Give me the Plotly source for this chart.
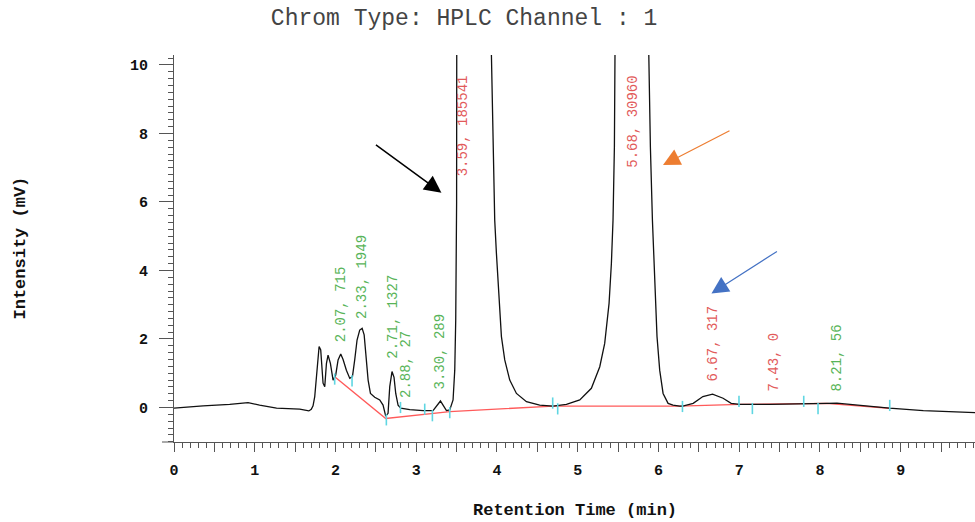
import plotly.graph_objects as go

# Detector trace (retention time in min, intensity in mV)
trace_t = [0.00, 0.36, 0.69, 0.80, 0.917, 1.06, 1.27, 1.557, 1.67, 1.70, 1.722, 1.743,
           1.76, 1.772, 1.785, 1.797, 1.817, 1.835, 1.846, 1.867, 1.888, 1.908, 1.937,
           1.970, 2.003, 2.032, 2.065, 2.094, 2.135, 2.177, 2.210, 2.238, 2.267, 2.300,
           2.33, 2.355, 2.375, 2.404, 2.433, 2.486, 2.548, 2.589, 2.622, 2.651, 2.672,
           2.70, 2.725, 2.746, 2.775, 2.808, 2.92, 3.085, 3.208, 3.25, 3.30, 3.332,
           3.374, 3.415, 3.456, 3.477, 3.489, 3.50, 3.506, 3.59, 3.925, 3.956, 3.972,
           3.993, 4.026, 4.055, 4.096, 4.158, 4.241, 4.365, 4.529, 4.694, 4.860, 5.025,
           5.169, 5.273, 5.334, 5.388, 5.417, 5.437, 5.454, 5.482, 5.68, 5.875, 5.90,
           5.925, 5.953, 5.982, 6.015, 6.057, 6.119, 6.18, 6.263, 6.30, 6.43, 6.55,
           6.67, 6.80, 6.90, 7.006, 7.38, 7.75, 7.93, 8.08, 8.21, 8.45, 8.86, 9.28, 9.92]
trace_v = [-0.02, 0.05, 0.09, 0.11, 0.14, 0.07, -0.02, -0.05, -0.10, -0.05, 0.05, 0.32,
           0.80, 1.09, 1.55, 1.78, 1.68, 1.05, 0.71, 0.61, 1.29, 1.53, 1.29,
           0.80, 0.95, 1.39, 1.56, 1.40, 1.09, 0.85, 0.90, 1.39, 1.97, 2.26,
           2.31, 2.12, 1.58, 0.80, 0.41, 0.30, 0.22, 0.07, -0.25, -0.17, 0.61,
           1.05, 0.88, 0.41, 0.07, -0.02, -0.06, -0.09, -0.09, 0.04, 0.19, 0.07,
           -0.09, -0.07, 0.22, 1.09, 2.55, 6.0, 11.0, 250.0, 11.0, 7.6, 5.47,
           4.50, 3.04, 2.07, 1.39, 0.80, 0.41, 0.17, 0.07, 0.04, 0.09, 0.22,
           0.56, 1.19, 1.87, 3.04, 4.21, 5.47, 7.6, 11.0, 90.0, 11.0, 7.6,
           5.47, 3.53, 2.07, 1.09, 0.41, 0.12, 0.07, 0.04, 0.04, 0.12, 0.32,
           0.39, 0.27, 0.12, 0.09, 0.09, 0.10, 0.10, 0.12, 0.13, 0.07, -0.02, -0.09, -0.15]

# Integration baseline
base_t = [1.99, 2.622, 3.415, 4.694, 6.26, 7.006, 8.08, 8.86]
base_v = [0.90, -0.32, -0.12, 0.04, 0.04, 0.09, 0.12, -0.02]

# Peak start / end markers
mark_t = [1.99, 2.205, 2.63, 2.805, 3.105, 3.20, 3.415, 4.69, 4.752,
          6.297, 6.997, 7.163, 7.799, 7.976, 8.864]
mark_v = [0.83, 0.78, -0.36, 0.0, -0.05, -0.24, -0.15, 0.13, -0.04,
          0.03, 0.18, -0.03, 0.18, -0.03, 0.06]

# Peak table: retention time, area, and whether the peak is flagged
peak_rt = [2.07, 2.33, 2.71, 2.88, 3.30, 3.59, 5.68, 6.67, 7.43, 8.21]
peak_area = [715, 1949, 1327, 27, 289, 185541, 30960, 317, 0, 56]
peak_flag = [False, False, False, False, False, True, True, True, True, False]

x_tick_vals = [i * 0.5 for i in range(20)]
x_tick_text = [str(i // 2) if i % 2 == 0 else "" for i in range(20)]

# Height (mV) of the bottom of each rotated peak label
label_base = [1.85, 2.53, 1.36, 0.22, 0.48, 6.70, 6.93, 0.69, 0.42, 0.42]

MONO = "Liberation Mono"
AXIS = "#555555"
GREEN = "#58b458"
RED = "#e25a5a"

fig = go.Figure()

fig.add_trace(go.Scatter(
    x=base_t, y=base_v, mode="lines",
    line=dict(color="#ff5a5a", width=1.4), hoverinfo="skip"))

fig.add_trace(go.Scatter(
    x=trace_t, y=trace_v, mode="lines",
    line=dict(color="#111111", width=1.3), hoverinfo="skip"))

fig.add_trace(go.Scatter(
    x=mark_t, y=mark_v, mode="markers",
    marker=dict(symbol="line-ns", size=8,
                line=dict(color="#5fd6e2", width=1.6)),
    hoverinfo="skip"))

annotations = []
for rt, area, flag, yb in zip(peak_rt, peak_area, peak_flag, label_base):
    annotations.append(dict(
        x=rt, y=yb, xref="x", yref="y", text=f"{rt:.2f}, {area}",
        showarrow=False, textangle=-90, xanchor="center", yanchor="bottom",
        font=dict(family=MONO, size=14, color=RED if flag else GREEN)))

# Pointer arrows
for hx, hy, ax, ay, col, w in [(3.312, 6.27, -67, -49, "#000000", 1.5),
                               (6.056, 7.08, 68, -35, "#ed7d31", 1.2),
                               (6.656, 3.33, 67, -43, "#4472c4", 1.2)]:
    annotations.append(dict(
        x=hx, y=hy, xref="x", yref="y", ax=ax, ay=ay, text="",
        showarrow=True, arrowhead=2, arrowsize=3.4 / w, arrowwidth=w,
        arrowcolor=col, standoff=0))

annotations.append(dict(
    x=0.5, y=0, xref="paper", yref="paper", yshift=-68, text="Retention Time (min)",
    showarrow=False, xanchor="center", yanchor="middle",
    font=dict(family=MONO, size=17, color="#111111", weight="bold")))
annotations.append(dict(
    x=0, y=0.5, xref="paper", yref="paper", xshift=-154, text="Intensity (mV)",
    showarrow=False, textangle=-90, xanchor="center", yanchor="middle",
    font=dict(family=MONO, size=17, color="#111111", weight="bold")))

fig.update_layout(
    width=975, height=522,
    margin=dict(l=174, r=0, t=55, b=80),
    plot_bgcolor="white", paper_bgcolor="white",
    showlegend=False,
    title=dict(text="Chrom Type: HPLC Channel : 1", x=0.476, xref="container",
               xanchor="center", y=0.967, yref="container", yanchor="middle",
               font=dict(family=MONO, size=23, color="#444444")),
    annotations=annotations,
    shapes=[dict(type="line", xref="paper", yref="paper", x0=-0.015, x1=0,
                 y0=0, y1=0, line=dict(color=AXIS, width=1))],
)

fig.update_xaxes(
    range=[0, 9.92], showline=True, linecolor=AXIS, linewidth=1,
    showgrid=False, zeroline=False,
    ticks="outside", ticklen=9, tickcolor=AXIS, tickwidth=1,
    tickvals=x_tick_vals, ticktext=x_tick_text, ticklabelstandoff=5,
    tickfont=dict(family=MONO, size=15, color="#111111", weight="bold"),
    minor=dict(dtick=0.1, tick0=0, ticks="outside", ticklen=5, tickcolor=AXIS))

fig.update_yaxes(
    range=[-1.007, 10.29], showline=True, linecolor=AXIS, linewidth=1,
    showgrid=False, zeroline=False,
    ticks="outside", ticklen=14, tickcolor=AXIS, tickwidth=1,
    tick0=0, dtick=2, ticklabelstandoff=8,
    tickfont=dict(family=MONO, size=15, color="#111111", weight="bold"),
    minor=dict(dtick=0.2, tick0=0, ticks="outside", ticklen=5, tickcolor=AXIS))

fig.write_html("out.html")
